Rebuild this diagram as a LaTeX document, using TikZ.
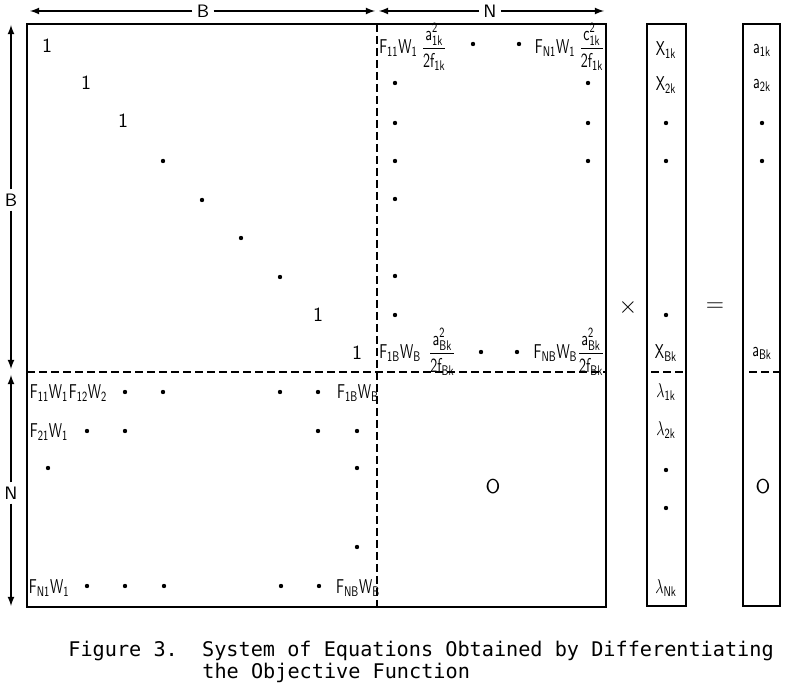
\documentclass[tikz,border=0pt]{standalone}
\usepackage{amsmath}
\usepackage{fontspec}
\newfontfamily\capfont{DejaVu Sans Mono}
\usetikzlibrary{calc}
\tikzset{
  entry/.style={inner sep=0pt, font=\fontsize{10}{10}\selectfont, xscale=0.7, transform shape},
  one/.style={inner sep=0pt, font=\sffamily\fontsize{10}{10}\selectfont},
  op/.style={inner sep=0pt, font=\fontsize{12}{12}\selectfont},
  dim/.style={line width=0.6pt, -latex},
  dim label/.style={fill=white, inner sep=2pt, font=\sffamily\fontsize{9}{10}\selectfont},
  frame/.style={line width=0.9pt},
  part line/.style={line width=1pt, dash pattern=on 4pt off 2pt},
  caption text/.style={anchor=west, inner sep=0pt, font=\capfont\fontsize{10.1}{12}\selectfont}
}
\def\Frac#1#2{\dfrac{\mathsf{#1}^{\mathsf{2}}_{\mathsf{#2}}}{\mathsf{2f_{#2}}}}
\def\Ent#1#2#3{\node[entry] (#1) at (#2) {$#3$};}
\def\Dots#1{\foreach \p in {#1} \fill \p circle[radius=1.1pt];}

\begin{document}
\begin{tikzpicture}[x=0.5pt, y=-0.5pt]
\useasboundingbox (0,0) rectangle (788,694);
% frames
\draw[frame] (27,24) rectangle (606,607);
\draw[frame] (647,24) rectangle (686,606);
\draw[frame] (743,24) rectangle (780,606);
\draw[part line] (377,24) -- (377,607);
\draw[part line] (27,372) -- (606,372);
\draw[part line] (651,372) -- (686,372);
\draw[part line] (749,372) -- (780,372);
% dimension arrows
\coordinate (tB0) at (30,11);
\coordinate (tB1) at (375,11);
\coordinate (tN0) at (379,11);
\coordinate (tN1) at (604,11);
\coordinate (lB0) at (11,25);
\coordinate (lB1) at (11,369);
\coordinate (lN0) at (11,375);
\coordinate (lN1) at (11,606);
\node[dim label] (tBl) at (203,11) {B};
\node[dim label] (tNl) at (490,11) {N};
\node[dim label] (lBl) at (11,200) {B};
\node[dim label] (lNl) at (11,493) {N};
\draw[dim] (tBl) -- (tB0);
\draw[dim] (tBl) -- (tB1);
\draw[dim] (tNl) -- (tN0);
\draw[dim] (tNl) -- (tN1);
\draw[dim] (lBl) -- (lB0);
\draw[dim] (lBl) -- (lB1);
\draw[dim] (lNl) -- (lN0);
\draw[dim] (lNl) -- (lN1);
% identity block
\node[one] (one1) at (47,46) {1};
\node[one] (one2) at (86,83) {1};
\node[one] (one3) at (123,121) {1};
\node[one] (one4) at (318,315) {1};
\node[one] (one5) at (357,353) {1};
\Dots{(163,161),(202,200),(241,238),(280,277)}
% upper right block
\node[entry, anchor=west] (ur1) at (379,47) {$\mathsf{F_{11}W_1}\;\Frac{a}{1k}$};
\node[entry, anchor=east] (ur2) at (605,47) {$\mathsf{F_{N1}W_1}\;\Frac{c}{1k}$};
\node[entry, anchor=west] (ur3) at (379,352) {$\mathsf{F_{1B}W_B}\;\;\Frac{a}{Bk}$};
\node[entry, anchor=east] (ur4) at (605,352) {$\mathsf{F_{NB}W_B}\Frac{a}{Bk}$};
\Dots{(473,44),(519,44),(481,352),(517,352)}
\Dots{(395,83),(395,123),(395,161),(395,199),(395,276),(395,315)}
\Dots{(588,83),(588,123),(588,161)}
% lower left block
\Ent{ll11}{49,393}{\mathsf{F_{11}W_1}}
\Ent{ll12}{88,393}{\mathsf{F_{12}W_2}}
\Ent{ll1B}{358,393}{\mathsf{F_{1B}W_B}}
\Ent{ll21}{49,432}{\mathsf{F_{21}W_1}}
\Ent{llN1}{49,588}{\mathsf{F_{N1}W_1}}
\Ent{llNB}{358,588}{\mathsf{F_{NB}W_B}}
\Dots{(125,392),(163,392),(280,392),(318,392)}
\Dots{(87,431),(125,431),(318,431),(357,431)}
\Dots{(48,468),(357,468),(357,547)}
\Dots{(87,586),(125,586),(164,586),(281,586),(319,586)}
% lower right block
\node[one] (zero) at (493,487) {O};
% operators
\node[op] (times) at (628,308) {$\times$};
\node[op] (eq) at (715,307) {$=$};
% unknowns
\Ent{x1}{666,50}{\mathsf{X_{1k}}}
\Ent{x2}{666,85}{\mathsf{X_{2k}}}
\Ent{xB}{666,353}{\mathsf{X_{Bk}}}
\Ent{l1}{666,392}{\lambda_{\mathsf{1k}}}
\Ent{l2}{666,430}{\lambda_{\mathsf{2k}}}
\Ent{lN}{666,588}{\lambda_{\mathsf{Nk}}}
\Dots{(666,123),(666,161),(666,315),(666,470),(666,508)}
% right hand side
\Ent{a1}{762,50}{\mathsf{a_{1k}}}
\Ent{a2}{762,85}{\mathsf{a_{2k}}}
\Ent{aB}{762,353}{\mathsf{a_{Bk}}}
\node[one] (azero) at (763,487) {O};
\Dots{(762,123),(762,161)}
% caption
\node[caption text] (capA) at (68,651) {Figure 3.\ \ System of Equations Obtained by Differentiating};
\node[caption text] (capB) at (202,673) {the Objective Function};
\end{tikzpicture}
\end{document}
